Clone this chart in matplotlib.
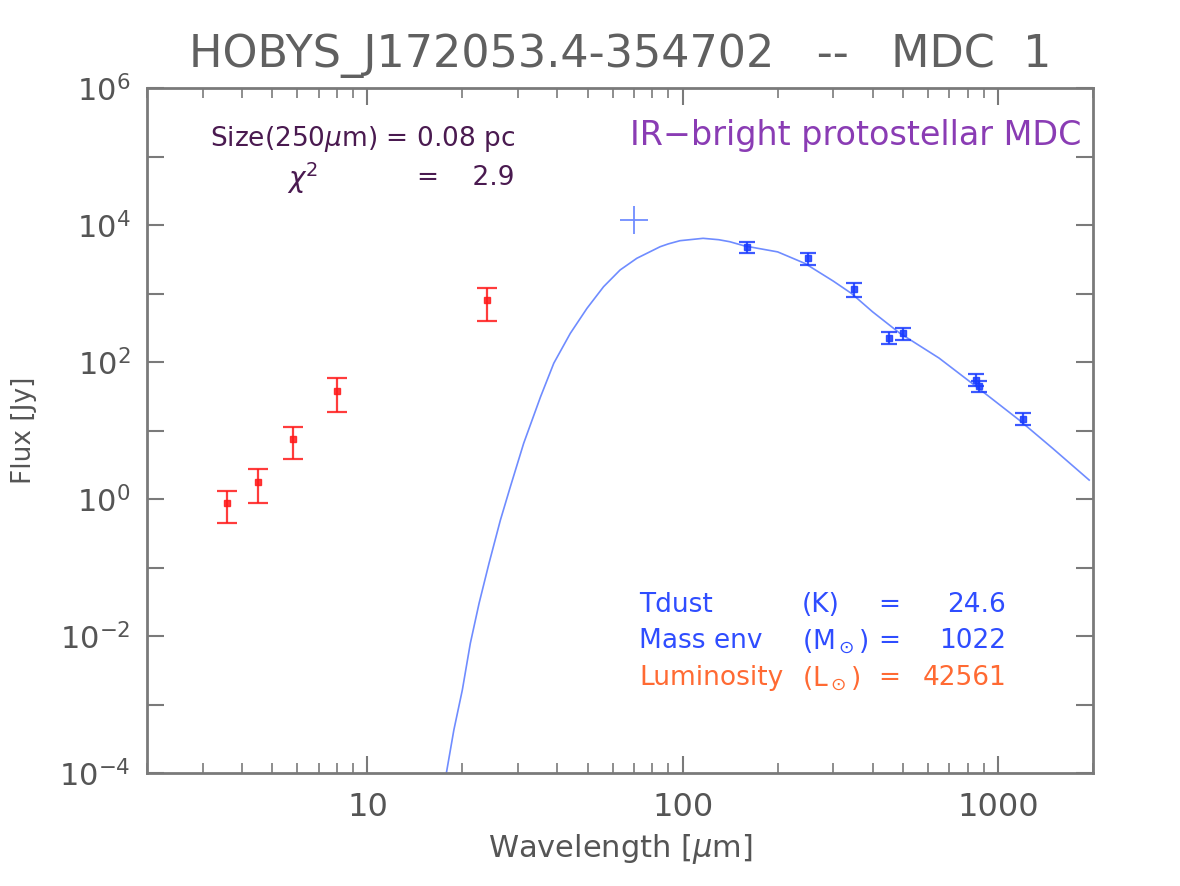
import matplotlib
matplotlib.use("Agg")
import matplotlib.pyplot as plt
from matplotlib.ticker import (NullFormatter, LogFormatterMathtext,
                               FixedLocator, FixedFormatter)

# --- données ---
# points infrarouge proche/moyen (rouge)
lam_ir = [3.6, 4.5, 5.8, 8.0, 24.0]
flux_ir = [0.87, 1.8, 7.4, 38.0, 810.0]
flux_ir_lo = [0.45, 0.88, 3.8, 18.8, 400.0]
flux_ir_hi = [1.31, 2.7, 11.4, 58.0, 1220.0]

# points submm (bleu)
lam_sub = [160, 250, 350, 450, 500, 850, 870, 1200]
flux_sub = [4820, 3265, 1150, 222, 262, 55, 44, 14.7]
flux_sub_lo = [3860, 2600, 898, 183, 209, 45, 37, 12.0]
flux_sub_hi = [5700, 3940, 1440, 272, 309, 67, 53, 17.8]

# limite supérieure à 70 µm
lam_up = [70]
flux_up = [11800]

# courbe du modèle (points relevés)
lam_fit = [17.8, 18.8, 20.0, 21.2, 22.6, 24.3, 26.4, 28.4, 31.3, 35.4, 39.0,
           44.0, 49.7, 56.1, 63.3, 71.5, 84.8, 90, 98, 116, 130, 141, 157,
           200, 244, 300, 343, 400, 487, 650, 841, 1167, 1489, 1945]
flux_fit = [1e-4, 4.25e-4, 1.63e-3, 7.8e-3, 0.030, 0.115, 0.49, 1.51, 6.5, 31,
            96, 262, 608, 1257, 2205, 3265, 4820, 5300, 5900, 6390, 6100,
            5700, 4950, 4050, 2750, 1520, 1000, 540, 265, 114, 46, 14.2, 5.5,
            1.89]

x_ticks = [10, 100, 1000]
x_labels = ["10", "100", "1000"]
y_ticks = [1e-4, 1e-2, 1e0, 1e2, 1e4, 1e6]
y_minor = [1e-3, 1e-1, 1e1, 1e3, 1e5]

titre = "HOBYS_J172053.4-354702   --   MDC  1"
gris = "#7a7a7a"
gris_txt = "#555555"
rouge = "#ff1a1a"
bleu = "#1a3cff"
bleu_courbe = "#6f8cff"

plt.rcParams["font.family"] = ["DejaVu Sans"]
plt.rcParams["mathtext.fontset"] = "dejavusans"

fig = plt.figure(figsize=(11.8, 8.86), dpi=100)
ax = fig.add_axes([147 / 1180, 113 / 886, 946 / 1180, 685 / 886])

ax.plot(lam_fit, flux_fit, color=bleu_courbe, lw=1.2, zorder=2)

yerr_ir = [[f - lo for f, lo in zip(flux_ir, flux_ir_lo)],
           [hi - f for f, hi in zip(flux_ir, flux_ir_hi)]]
ax.errorbar(lam_ir, flux_ir, yerr=yerr_ir, fmt="s", color=rouge, ms=4,
            ecolor=rouge, elinewidth=1.6, capsize=7, capthick=1.6, alpha=0.85,
            zorder=3)

yerr_sub = [[f - lo for f, lo in zip(flux_sub, flux_sub_lo)],
            [hi - f for f, hi in zip(flux_sub, flux_sub_hi)]]
ax.errorbar(lam_sub, flux_sub, yerr=yerr_sub, fmt="s", color=bleu, ms=4,
            ecolor=bleu, elinewidth=1.6, capsize=6, capthick=1.6, alpha=0.85,
            zorder=3)

ax.plot(lam_up, flux_up, "+", color=bleu_courbe, ms=20, mew=1.3, zorder=3)

ax.set_xscale("log")
ax.set_yscale("log")
ax.set_xlim(2, 2000)
ax.set_ylim(1e-4, 1e6)

ax.xaxis.set_major_locator(FixedLocator(x_ticks))
ax.xaxis.set_major_formatter(FixedFormatter(x_labels))
ax.xaxis.set_minor_formatter(NullFormatter())
ax.yaxis.set_major_locator(FixedLocator(y_ticks))
ax.yaxis.set_major_formatter(LogFormatterMathtext())
ax.yaxis.set_minor_locator(FixedLocator(y_minor))
ax.yaxis.set_minor_formatter(NullFormatter())

for s in ax.spines.values():
    s.set_color(gris)
    s.set_linewidth(2)
ax.tick_params(which="both", direction="in", top=True, right=True,
               colors=gris, labelcolor=gris_txt)
ax.tick_params(which="major", length=12, width=1.5, pad=12)
ax.tick_params(axis="x", which="major", labelsize=23, pad=14)
ax.tick_params(axis="y", which="major", labelsize=22)
ax.tick_params(which="minor", length=7, width=1.2)
ax.tick_params(axis="y", which="minor", length=12, width=1.5)

ax.set_xlabel(r"Wavelength [$\mu$m]", fontsize=22, color=gris_txt,
              labelpad=6)
ax.set_ylabel("Flux [Jy]", fontsize=19, color=gris_txt, labelpad=16)

fig.text(0.526, 0.937, titre, ha="center", va="center", fontsize=32,
         color="#606060")

violet_fonce = "#4a1a50"
ax.text(0.067, 0.925, r"Size(250$\mu$m) = 0.08 pc", transform=ax.transAxes,
        fontsize=19, color=violet_fonce, va="center")
ax.text(0.148, 0.868, r"$\chi^2$", transform=ax.transAxes, fontsize=20,
        color=violet_fonce, va="center")
ax.text(0.285, 0.868, "=    2.9", transform=ax.transAxes, fontsize=19,
        color=violet_fonce, va="center")
ax.text(0.988, 0.93, "IR\u2212bright protostellar MDC", transform=ax.transAxes,
        fontsize=24, color="#8a3cb4", va="center", ha="right")

bleu_txt = "#2f4dff"
orange_txt = "#ff6a33"
lignes = [
    ("Tdust", "(K)", "24.6", 0.245, bleu_txt),
    ("Mass env", r"(M$_\odot$)", "1022", 0.192, bleu_txt),
    ("Luminosity", r"(L$_\odot$)", "42561", 0.138, orange_txt),
]
for nom, unite, val, y, c in lignes:
    ax.text(0.52, y, nom, transform=ax.transAxes, fontsize=19, color=c,
            va="center")
    ax.text(0.692, y, unite, transform=ax.transAxes, fontsize=19, color=c,
            va="center")
    ax.text(0.773, y, "=", transform=ax.transAxes, fontsize=19, color=c,
            va="center")
    ax.text(0.908, y, val, transform=ax.transAxes, fontsize=19, color=c,
            va="center", ha="right")

fig.savefig("out.png", dpi=100)
